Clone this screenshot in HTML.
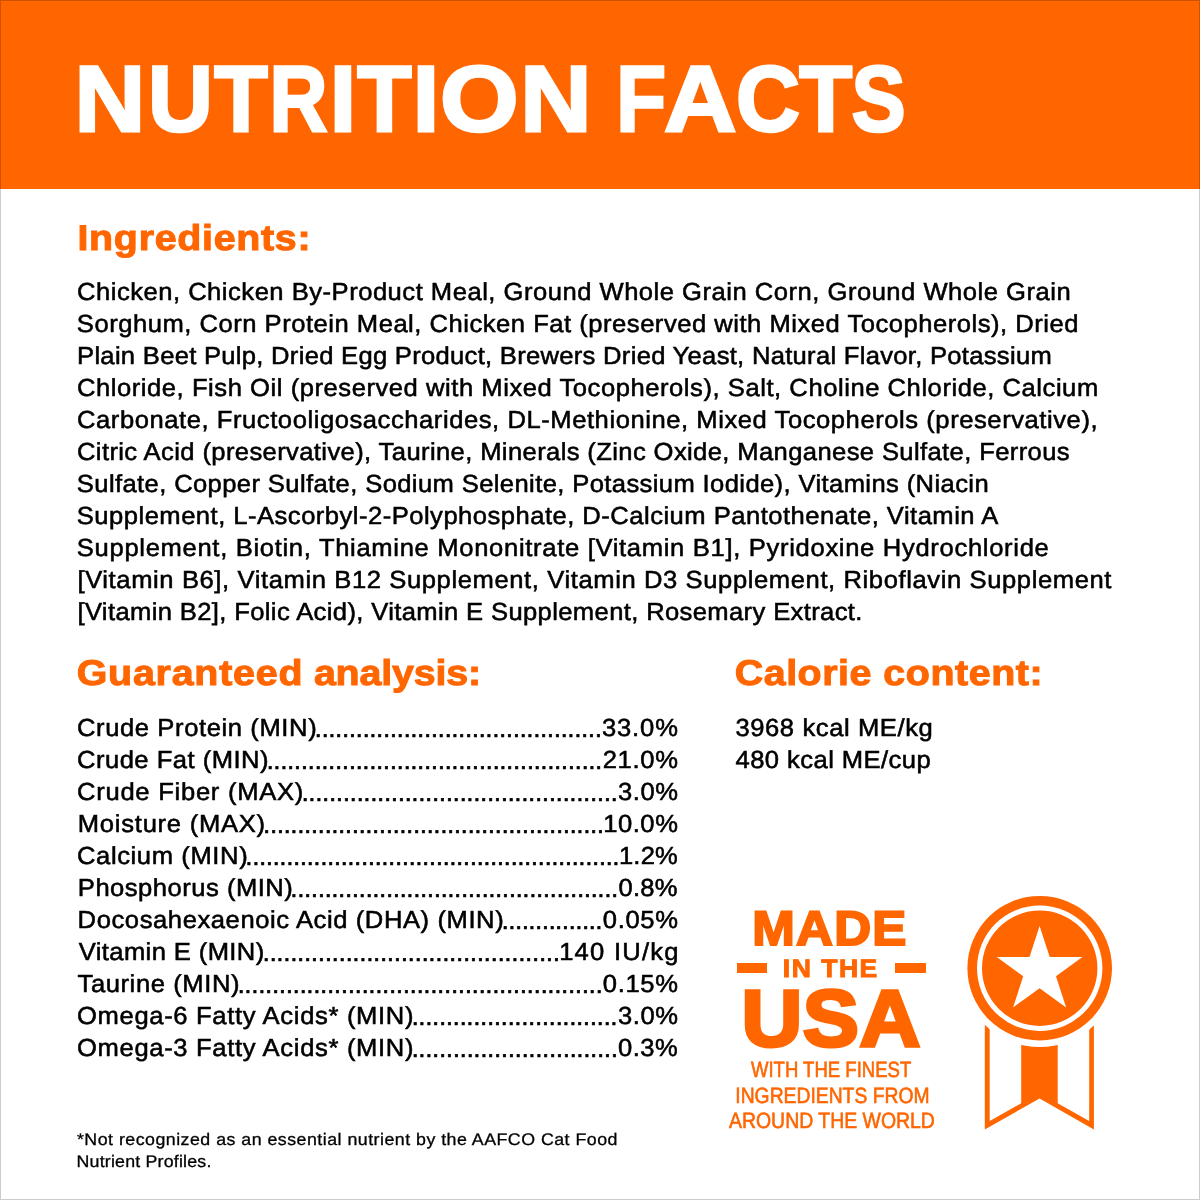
<!DOCTYPE html>
<html lang="en"><head><meta charset="utf-8"><title>Nutrition Facts</title>
<meta name="viewport" content="width=1200">
<style>
html,body{margin:0;padding:0;background:#fff;}
body{width:1200px;height:1200px;overflow:hidden;text-rendering:geometricPrecision;font-family:"Liberation Sans",Arial,Helvetica,sans-serif;color:#000;}
#page{position:relative;width:1200px;height:1200px;overflow:hidden;background:#fff;}
header{position:absolute;left:0;top:0;width:1200px;height:189px;background:#ff6600;}
h1,h2,p,ul,li,section,footer{margin:0;padding:0;font-weight:normal;font-size:inherit;list-style:none;}
.t{position:absolute;left:0;top:0;line-height:1;white-space:nowrap;transform-origin:0 0;}
h1{position:absolute;left:0;top:0;line-height:1;white-space:nowrap;}
.c{display:inline-block;line-height:1;transform-origin:0 0;}
.medal{position:absolute;left:960px;top:890px;}
.dash{position:absolute;background:#ff6600;height:10px;top:963px;}
#frame{position:absolute;left:0;top:0;width:1198px;height:1198px;border:1px solid rgba(0,0,0,.2);pointer-events:none;}
.s0{font-size:93.4px;font-weight:700;color:#ffffff;-webkit-text-stroke:2.8px #ffffff;}
.s1{font-size:35.8px;font-weight:700;color:#ff6600;-webkit-text-stroke:1.0px #ff6600;}
.s2{font-size:24.6px;-webkit-text-stroke:0.55px #000000;}
.s3{font-size:24.6px;-webkit-text-stroke:0.7px #000000;}
.s4{font-size:16.8px;-webkit-text-stroke:0.3px #000000;}
.s5{font-size:48.7px;font-weight:700;color:#ff6600;-webkit-text-stroke:2px #ff6600;}
.s6{font-size:25.3px;font-weight:700;color:#ff6600;-webkit-text-stroke:0.9px #ff6600;}
.s7{font-size:80.2px;font-weight:700;color:#ff6600;-webkit-text-stroke:3.4px #ff6600;}
.s8{font-size:22px;color:#ff6600;-webkit-text-stroke:0.6px #ff6600;}
</style></head><body>
<div id="page">
<header><h1 class="s0" aria-label="NUTRITION FACTS"><span class="c" id="tl0" style="transform:translate(74.42px,51.85px) scaleX(1.0487);">N</span><span class="c" id="tl1" style="transform:translate(80.97px,51.85px) scaleX(0.9622);">U</span><span class="c" id="tl2" style="transform:translate(79.20px,51.85px) scaleX(0.9375);">T</span><span class="c" id="tl3" style="transform:translate(77.49px,51.85px) scaleX(0.8597);">R</span><span class="c" id="tl4" style="transform:translate(70.72px,51.85px) scaleX(1.0169);">I</span><span class="c" id="tl5" style="transform:translate(72.27px,51.85px) scaleX(0.9523);">T</span><span class="c" id="tl6" style="transform:translate(70.63px,51.85px) scaleX(1.0171);">I</span><span class="c" id="tl7" style="transform:translate(71.95px,51.85px) scaleX(1.0822);">O</span><span class="c" id="tl8" style="transform:translate(79.31px,51.85px) scaleX(1.0564);">N</span> <span class="c" id="tl10" style="transform:translate(82.20px,51.85px) scaleX(0.8729);">F</span><span class="c" id="tl11" style="transform:translate(73.12px,51.85px) scaleX(1.0742);">A</span><span class="c" id="tl12" style="transform:translate(77.10px,51.85px) scaleX(0.9492);">C</span><span class="c" id="tl13" style="transform:translate(73.27px,51.85px) scaleX(0.9279);">T</span><span class="c" id="tl14" style="transform:translate(68.51px,51.85px) scaleX(0.8696);">S</span></h1></header>
<main>
<section class="ingredients"><h2><span class="t s1" id="h_ing" style="transform:translate(77.46px,220.70px) scaleX(1.1000);letter-spacing:0.644px;">Ingredients:</span></h2>
<p><span class="t s2" id="ing0" style="transform:translate(76.99px,281.48px) scaleX(1.0400);letter-spacing:0.485px;">Chicken, Chicken By-Product Meal, Ground Whole Grain Corn, Ground Whole Grain</span>
<span class="t s2" id="ing1" style="transform:translate(76.83px,313.48px) scaleX(1.0400);letter-spacing:0.494px;">Sorghum, Corn Protein Meal, Chicken Fat (preserved with Mixed Tocopherols), Dried</span>
<span class="t s2" id="ing2" style="transform:translate(77.05px,345.48px) scaleX(1.0400);letter-spacing:0.280px;">Plain Beet Pulp, Dried Egg Product, Brewers Dried Yeast, Natural Flavor, Potassium</span>
<span class="t s2" id="ing3" style="transform:translate(76.99px,377.48px) scaleX(1.0400);letter-spacing:0.526px;">Chloride, Fish Oil (preserved with Mixed Tocopherols), Salt, Choline Chloride, Calcium</span>
<span class="t s2" id="ing4" style="transform:translate(76.99px,409.48px) scaleX(1.0400);letter-spacing:0.537px;">Carbonate, Fructooligosaccharides, DL-Methionine, Mixed Tocopherols (preservative),</span>
<span class="t s2" id="ing5" style="transform:translate(76.99px,441.48px) scaleX(1.0400);letter-spacing:0.368px;">Citric Acid (preservative), Taurine, Minerals (Zinc Oxide, Manganese Sulfate, Ferrous</span>
<span class="t s2" id="ing6" style="transform:translate(76.83px,473.48px) scaleX(1.0400);letter-spacing:0.372px;">Sulfate, Copper Sulfate, Sodium Selenite, Potassium Iodide), Vitamins (Niacin</span>
<span class="t s2" id="ing7" style="transform:translate(76.83px,505.48px) scaleX(1.0400);letter-spacing:0.464px;">Supplement, L-Ascorbyl-2-Polyphosphate, D-Calcium Pantothenate, Vitamin A</span>
<span class="t s2" id="ing8" style="transform:translate(76.83px,537.48px) scaleX(1.0400);letter-spacing:0.654px;">Supplement, Biotin, Thiamine Mononitrate [Vitamin B1], Pyridoxine Hydrochloride</span>
<span class="t s2" id="ing9" style="transform:translate(77.42px,569.48px) scaleX(1.0400);letter-spacing:0.579px;">[Vitamin B6], Vitamin B12 Supplement, Vitamin D3 Supplement, Riboflavin Supplement</span>
<span class="t s2" id="ing10" style="transform:translate(77.42px,601.48px) scaleX(1.0400);letter-spacing:0.355px;">[Vitamin B2], Folic Acid), Vitamin E Supplement, Rosemary Extract.</span></p></section>
<section class="analysis"><h2><span class="t s1" id="h_ga1" style="transform:translate(76.66px,656.30px) scaleX(1.1000);letter-spacing:0.704px;">Guaranteed</span> <span class="t s1" id="h_ga2" style="transform:translate(313.89px,656.30px) scaleX(1.1000);letter-spacing:-0.156px;">analysis:</span></h2>
<ul>
<li><span class="t s2" id="gal0" style="transform:translate(76.99px,717.12px) scaleX(1.0400);letter-spacing:0.579px;">Crude Protein (MIN)</span><span class="t s3" id="gad0" style="transform:translate(314.87px,717.55px);letter-spacing:-0.003px;">..........................................</span><span class="t s2" id="gav0" style="transform:translate(601.92px,717.12px) scaleX(1.0400);letter-spacing:0.826px;">33.0%</span></li>
<li><span class="t s2" id="gal1" style="transform:translate(76.99px,749.12px) scaleX(1.0400);letter-spacing:0.464px;">Crude Fat (MIN)</span><span class="t s3" id="gad1" style="transform:translate(266.74px,749.55px);letter-spacing:0.013px;">.................................................</span><span class="t s2" id="gav1" style="transform:translate(602.69px,749.12px) scaleX(1.0400);letter-spacing:0.650px;">21.0%</span></li>
<li><span class="t s2" id="gal2" style="transform:translate(76.99px,781.12px) scaleX(1.0400);letter-spacing:0.705px;">Crude Fiber (MAX)</span><span class="t s3" id="gad2" style="transform:translate(301.74px,781.55px);letter-spacing:0.034px;">..............................................</span><span class="t s2" id="gav2" style="transform:translate(617.89px,781.12px) scaleX(1.0400);letter-spacing:0.563px;">3.0%</span></li>
<li><span class="t s2" id="gal3" style="transform:translate(77.82px,813.12px) scaleX(1.0400);letter-spacing:0.712px;">Moisture (MAX)</span><span class="t s3" id="gad3" style="transform:translate(263.36px,813.55px);letter-spacing:-0.024px;">..................................................</span><span class="t s2" id="gav3" style="transform:translate(603.15px,813.12px) scaleX(1.0400);letter-spacing:0.531px;">10.0%</span></li>
<li><span class="t s2" id="gal4" style="transform:translate(76.99px,845.12px) scaleX(1.0400);letter-spacing:0.582px;">Calcium (MIN)</span><span class="t s3" id="gad4" style="transform:translate(245.62px,845.55px);letter-spacing:-0.037px;">.......................................................</span><span class="t s2" id="gav4" style="transform:translate(618.97px,845.12px) scaleX(1.0400);letter-spacing:0.166px;">1.2%</span></li>
<li><span class="t s2" id="gal5" style="transform:translate(77.82px,877.12px) scaleX(1.0400);letter-spacing:0.476px;">Phosphorus (MIN)</span><span class="t s3" id="gad5" style="transform:translate(290.62px,877.55px);letter-spacing:-0.011px;">................................................</span><span class="t s2" id="gav5" style="transform:translate(618.62px,877.12px) scaleX(1.0400);letter-spacing:0.196px;">0.8%</span></li>
<li><span class="t s2" id="gal6" style="transform:translate(77.59px,909.12px) scaleX(1.0400);letter-spacing:0.562px;">Docosahexaenoic Acid (DHA) (MIN)</span><span class="t s3" id="gad6" style="transform:translate(501.87px,909.55px);letter-spacing:-0.145px;">...............</span><span class="t s2" id="gav6" style="transform:translate(602.82px,909.12px) scaleX(1.0400);letter-spacing:0.618px;">0.05%</span></li>
<li><span class="t s2" id="gal7" style="transform:translate(78.69px,941.12px) scaleX(1.0400);letter-spacing:0.380px;">Vitamin E (MIN)</span><span class="t s3" id="gad7" style="transform:translate(262.74px,941.55px);letter-spacing:0.077px;">...........................................</span><span class="t s2" id="gav7" style="transform:translate(559.15px,941.12px) scaleX(1.0400);letter-spacing:1.189px;">140 IU/kg</span></li>
<li><span class="t s2" id="gal8" style="transform:translate(77.52px,973.12px) scaleX(1.0400);letter-spacing:0.563px;">Taurine (MIN)</span><span class="t s3" id="gad8" style="transform:translate(237.74px,973.55px);letter-spacing:0.051px;">.....................................................</span><span class="t s2" id="gav8" style="transform:translate(602.81px,973.12px) scaleX(1.0400);letter-spacing:0.621px;">0.15%</span></li>
<li><span class="t s2" id="gal9" style="transform:translate(76.94px,1005.12px) scaleX(1.0400);letter-spacing:0.646px;">Omega-6 Fatty Acids* (MIN)</span><span class="t s3" id="gad9" style="transform:translate(411.74px,1005.55px);letter-spacing:0.022px;">..............................</span><span class="t s2" id="gav9" style="transform:translate(617.89px,1005.12px) scaleX(1.0400);letter-spacing:0.563px;">3.0%</span></li>
<li><span class="t s2" id="gal10" style="transform:translate(76.94px,1037.12px) scaleX(1.0400);letter-spacing:0.646px;">Omega-3 Fatty Acids* (MIN)</span><span class="t s3" id="gad10" style="transform:translate(411.74px,1037.55px);letter-spacing:0.037px;">..............................</span><span class="t s2" id="gav10" style="transform:translate(618.09px,1037.12px) scaleX(1.0400);letter-spacing:0.439px;">0.3%</span></li>
</ul>
<p class="footnote"><span class="t s4" id="fn0" style="transform:translate(76.94px,1131.93px) scaleX(1.0600);letter-spacing:0.453px;">*Not recognized as an essential nutrient by the AAFCO Cat Food</span> <span class="t s4" id="fn1" style="transform:translate(76.51px,1153.73px) scaleX(1.0600);letter-spacing:0.185px;">Nutrient Profiles.</span></p></section>
<section class="calories"><h2><span class="t s1" id="h_cal1" style="transform:translate(734.82px,656.30px) scaleX(1.1000);letter-spacing:0.452px;">Calorie</span> <span class="t s1" id="h_cal2" style="transform:translate(883.30px,656.30px) scaleX(1.1000);letter-spacing:0.519px;">content:</span></h2>
<p><span class="t s2" id="cal0" style="transform:translate(735.42px,717.12px) scaleX(1.0400);letter-spacing:0.569px;">3968 kcal ME/kg</span> <span class="t s2" id="cal1" style="transform:translate(735.49px,749.12px) scaleX(1.0400);letter-spacing:0.420px;">480 kcal ME/cup</span></p></section>
<section class="badge">
<i class="dash" style="left:736.7px;width:30.8px"></i><i class="dash" style="left:894.6px;width:31.7px"></i>
<span class="t s5" id="b_made" style="transform:translate(752.19px,905.30px) scaleX(1.0500);letter-spacing:1.175px;">MADE</span> <span class="t s6" id="b_in" style="transform:translate(782.82px,956.55px) scaleX(1.0500);letter-spacing:1.411px;">IN THE</span> <span class="t s7" id="b_usa" style="transform:translate(741.39px,977.90px) scaleX(1.0500);letter-spacing:0.601px;">USA</span> <span class="t s8" id="b_w1" style="transform:translate(750.93px,1058.70px) scaleX(0.8426);">WITH THE FINEST</span> <span class="t s8" id="b_w2" style="transform:translate(735.30px,1084.70px) scaleX(0.8780);">INGREDIENTS FROM</span> <span class="t s8" id="b_w3" style="transform:translate(728.98px,1109.70px) scaleX(0.8836);">AROUND THE WORLD</span>
<svg class="medal" width="160" height="250" viewBox="960 890 160 250" aria-hidden="true">
<path d="M984.8 1000V1129.6L1039.6 1098.4L1093.9 1129.6V1000Z" fill="#ff6600"/>
<path d="M989.7 1000V1121.1L1021.2 1103.2V1000Z" fill="#fff"/>
<path d="M1089.2 1000V1121.1L1057.7 1103.2V1000Z" fill="#fff"/>
<circle cx="1039.7" cy="968.2" r="78.9" fill="#fff"/>
<circle cx="1039.7" cy="968.2" r="72.3" fill="#ff6600"/>
<circle cx="1039.7" cy="968.2" r="62.7" fill="#fff"/>
<circle cx="1039.7" cy="968.2" r="57.7" fill="#ff6600"/>
<path d="M1039.6 926.0L1049.7 957.1L1082.4 957.1L1056.0 976.3L1066.1 1007.4L1039.6 988.2L1013.1 1007.4L1023.2 976.3L996.8 957.1L1029.5 957.1Z" fill="#fff"/>
</svg>
</section>
</main>
<div id="frame"></div>
</div></body></html>
